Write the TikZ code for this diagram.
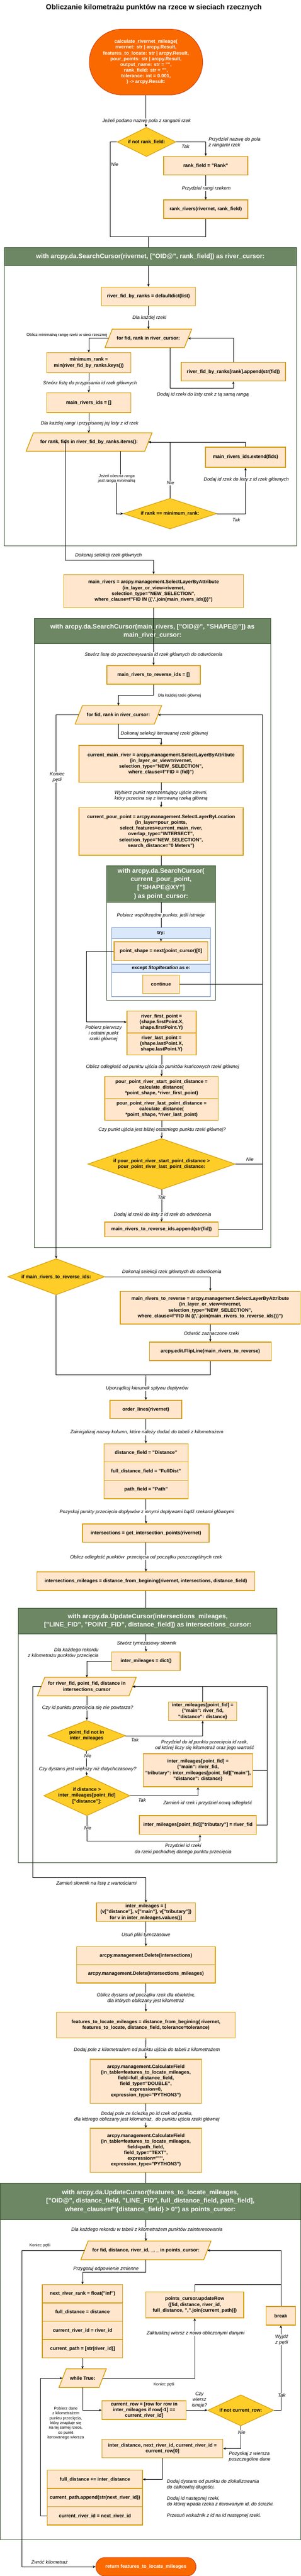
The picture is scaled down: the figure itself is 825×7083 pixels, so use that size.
\documentclass[tikz,border=0pt]{standalone}
\usepackage{fontspec}
\setmainfont{Liberation Sans}
\usetikzlibrary{shapes.geometric,arrows.meta,backgrounds}

\definecolor{boxfill}{HTML}{FFE6CC}
\definecolor{boxline}{HTML}{D79B00}
\definecolor{condfill}{HTML}{FFCD28}
\definecolor{condline}{HTML}{D79B00}
\definecolor{termfill}{HTML}{FA6800}
\definecolor{termline}{HTML}{C73500}
\definecolor{groupfill}{HTML}{6D8764}
\definecolor{groupline}{HTML}{3A5431}
\definecolor{tryfill}{HTML}{DAE8FC}
\definecolor{tryline}{HTML}{6C8EBF}

\begin{document}
\begin{tikzpicture}[x=1pt,y=-1pt]
\tikzset{
	code box/.style={draw=boxline, fill=boxfill, line width=2pt, inner sep=0pt, align=center,
		font=\fontsize{13.2}{15.8}\selectfont\bfseries},
	start stop/.style={draw=termline, fill=termfill, line width=1.2pt, text=white, inner sep=0pt,
		align=center, font=\fontsize{13.2}{15.8}\selectfont\bfseries},
	decision/.style={diamond, draw=condline, fill=condfill, line width=1.6pt, inner sep=0pt},
	decision text/.style={align=center, inner sep=0pt, font=\fontsize{13.2}{15.8}\selectfont\bfseries},
	loop head/.style={inner sep=0pt, align=center, font=\fontsize{13.2}{15.8}\selectfont\bfseries},
	loop shape/.style={draw=boxline, fill=boxfill, line width=2pt},
	group frame/.style={draw=groupline, line width=1.1pt, inner sep=0pt},
	group head/.style={draw=groupline, fill=groupfill, line width=1.1pt, text=white, inner sep=0pt,
		align=center, anchor=north, font=\fontsize{17.6}{22.9}\selectfont\bfseries},
	try frame/.style={draw=tryline, line width=1.1pt, inner sep=0pt},
	try head/.style={draw=tryline, fill=tryfill, line width=1.1pt, inner sep=0pt,
		font=\fontsize{13.2}{15.8}\selectfont\bfseries},
	flow/.style={line width=1.1pt, -{Stealth[length=7.5pt,width=6.5pt]}},
	joint/.style={line width=1.1pt},
	edge label/.style={fill=white, inner sep=1pt, align=center, font=\fontsize{13.2}{15.8}\selectfont\itshape},
	side note/.style={inner sep=0pt, align=center, font=\fontsize{13.2}{15.8}\selectfont\itshape},
	small note/.style={inner sep=0pt, align=center, font=\fontsize{11}{13.2}\selectfont}
}
\useasboundingbox (0,0) rectangle (825,7083);

\node[font=\fontsize{19.8}{24}\selectfont\bfseries] (title) at (422,21.5) {Obliczanie kilometrażu punktów na rzece w sieciach rzecznych};

% with-blocks
\node[group frame, minimum width=800.9pt, minimum height=819.3pt] (g1) at (412.6,1090.4) {};
\node[group head, minimum width=800.9pt, minimum height=49.7pt] (g1head) at (g1.north) {with arcpy.da.SearchCursor(rivernet, ["OID@", rank\_field]) as river\_cursor:};
\node[group frame, minimum width=649.2pt, minimum height=1729.9pt] (g2) at (418.3,2565.4) {};
\node[group head, minimum width=649.2pt, minimum height=70.1pt] (g2head) at (g2.north) {with arcpy.da.SearchCursor(main\_rivers, ["OID@", "SHAPE@"]) as\\main\_river\_cursor:};
\node[group frame, minimum width=299.9pt, minimum height=370pt] (g3) at (442,2565.3) {};
\node[group head, minimum width=299.9pt, minimum height=100.2pt] (g3head) at (g3.north) {with arcpy.da.SearchCursor(\\current\_pour\_point,\\{}["SHAPE@XY"]\\) as point\_cursor:};
\node[try frame, minimum width=270.5pt, minimum height=190.2pt] (tryblock) at (442,2645.3) {};
\node[try head, anchor=north, minimum width=270.5pt, minimum height=30.6pt] (tryhead) at (tryblock.north) {try:};
\node[try head, minimum width=270.5pt, minimum height=23.3pt] (excepthead) at (442,2662.2) {except \textit{StopIteration} as e:};
\node[group frame, minimum width=709.8pt, minimum height=699.8pt] (g4) at (405.4,4772.3) {};
\node[group head, minimum width=709.8pt, minimum height=69.6pt] (g4head) at (g4.north) {with arcpy.da.UpdateCursor(intersections\_mileages,\\{}["LINE\_FID", "POINT\_FID", distance\_field]) as intersections\_cursor:};
\node[group frame, minimum width=824pt, minimum height=979.8pt] (g5) at (412.5,6492.5) {};
\node[group head, minimum width=824pt, minimum height=100.2pt] (g5head) at (g5.north) {with arcpy.da.UpdateCursor(features\_to\_locate\_mileages,\\{}["OID@", distance\_field, "LINE\_FID", full\_distance\_field, path\_field],\\where\_clause=f"\{distance\_field\} > 0") as points\_cursor:};

% ranks
\node[start stop, minimum width=311pt, minimum height=181pt, rounded corners=90pt] (start) at (400.5,170.5) {calculate\_rivernet\_mileage(\\rivernet: str | arcpy.Result,\\features\_to\_locate: str | arcpy.Result,\\pour\_points: str | arcpy.Result,\\output\_name: str = "",\\rank\_field: str = "",\\tolerance: int = 0.001,\\) -> arcpy.Result:};
\node[decision, minimum width=161pt, minimum height=80.4pt, label={[decision text]center:{if not rank\_field:}}] (ifrank) at (402,390.3) {};
\node[code box, minimum width=231pt, minimum height=50.9pt] (rankset) at (564.5,455.2) {rank\_field = "Rank"};
\node[code box, minimum width=231pt, minimum height=50.9pt] (rankriv) at (564.5,575.3) {rank\_rivers(rivernet, rank\_field)};

\node[code box, minimum width=257.9pt, minimum height=51.6pt] (fiddict) at (407.3,815.2) {river\_fid\_by\_ranks = defaultdict(list)};
\node[loop head, minimum width=217.5pt, minimum height=50.2pt] (forriver) at (407,930.4) {for fid, rank in river\_cursor:};
\node[code box, minimum width=230.4pt, minimum height=54.7pt] (minrank) at (243.6,997.4) {minimum\_rank =\\min(river\_fid\_by\_ranks.keys())};
\node[code box, minimum width=286.2pt, minimum height=50.9pt] (fidappend) at (640.3,1022.3) {river\_fid\_by\_ranks[rank].append(str(fid))};
\node[code box, minimum width=230.4pt, minimum height=54.8pt] (mainids) at (243.6,1107.2) {main\_rivers\_ids = []};
\node[loop head, minimum width=325.1pt, minimum height=50.2pt] (forrank) at (244.4,1215.4) {for rank, fids in river\_fid\_by\_ranks.items():};
\node[decision, minimum width=256.3pt, minimum height=84.2pt, label={[decision text]center:{if rank == minimum\_rank:}}] (ifmin) at (466.5,1412.3) {};
\node[code box, minimum width=219.4pt, minimum height=55.2pt] (extend) at (673.7,1257.3) {main\_rivers\_ids.extend(fids)};
\node[code box, minimum width=493.5pt, minimum height=90.7pt] (selmain) at (421.5,1625.2) {main\_rivers = arcpy.management.SelectLayerByAttribute\\(in\_layer\_or\_view=rivernet,\\selection\_type="NEW\_SELECTION",\\where\_clause=f"FID IN (\{\textquotesingle,\textquotesingle.join(main\_rivers\_ids)\})")};

% main rivers
\node[code box, minimum width=256.8pt, minimum height=50.9pt] (revids) at (421.4,1855.5) {main\_rivers\_to\_reverse\_ids = []};
\node[loop head, minimum width=217pt, minimum height=50.5pt] (formain) at (324.8,1965.5) {for fid, rank in river\_cursor:};
\node[code box, minimum width=450.4pt, minimum height=100.7pt] (curmain) at (442,2100.4) {current\_main\_river = arcpy.management.SelectLayerByAttribute\\(in\_layer\_or\_view=rivernet,\\selection\_type="NEW\_SELECTION",\\where\_clause=f"FID = \{fid\}")};
\node[code box, minimum width=450.4pt, minimum height=130.9pt] (curpour) at (442,2286.3) {current\_pour\_point = arcpy.management.SelectLayerByLocation\\(in\_layer=pour\_points,\\select\_features=current\_main\_river,\\overlap\_type="INTERSECT",\\selection\_type="NEW\_SELECTION",\\search\_distance="0 Meters")};
\node[code box, minimum width=257.3pt, minimum height=51.3pt] (ptshape) at (441.7,2615.3) {point\_shape = next(point\_cursor)[0]};
\node[code box, minimum width=100.6pt, minimum height=51.3pt] (cont) at (441.7,2706.4) {continue};
\node[code box, minimum width=190pt, minimum height=60.1pt] (firstpt) at (443.3,2810.3) {river\_first\_point =\\(shape.firstPoint.X,\\shape.firstPoint.Y)};
\node[code box, minimum width=190pt, minimum height=60pt] (lastpt) at (443.3,2870.3) {river\_last\_point =\\(shape.lastPoint.X,\\shape.lastPoint.Y)};
\node[code box, minimum width=311pt, minimum height=60.1pt] (startdist) at (443.3,2990.4) {pour\_point\_river\_start\_point\_distance =\\calculate\_distance(\\{}*point\_shape, *river\_first\_point)};
\node[code box, minimum width=311pt, minimum height=60.1pt] (lastdist) at (443.3,3050.5) {pour\_point\_river\_last\_point\_distance =\\calculate\_distance(\\{}*point\_shape, *river\_last\_point)};
\node[decision, minimum width=404.6pt, minimum height=140.1pt, label={[decision text]center:{if pour\_point\_river\_start\_point\_distance >\\pour\_point\_river\_last\_point\_distance:}}] (ifcloser) at (443.3,3200.6) {};
\node[code box, minimum width=311pt, minimum height=40.6pt] (revappend) at (443.3,3380.5) {main\_rivers\_to\_reverse\_ids.append(str(fid))};
\node[decision, minimum width=266.3pt, minimum height=99.4pt, label={[decision text]center:{if main\_rivers\_to\_reverse\_ids:}}] (ifrev) at (154.2,3510.6) {};
\node[code box, minimum width=494pt, minimum height=90.3pt] (selrev) at (577,3595.5) {main\_rivers\_to\_reverse = arcpy.management.SelectLayerByAttribute\\(in\_layer\_or\_view=rivernet,\\selection\_type="NEW\_SELECTION",\\where\_clause=f"FID IN (\{\textquotesingle,\textquotesingle.join(main\_rivers\_to\_reverse\_ids)\})")};
\node[code box, minimum width=334.1pt, minimum height=50.9pt] (flip) at (577,3715.5) {arcpy.edit.FlipLine(main\_rivers\_to\_reverse)};

% intersections
\node[code box, minimum width=197.3pt, minimum height=50.5pt] (order) at (400.2,3875.3) {order\_lines(rivernet)};
\node[code box, minimum width=231pt, minimum height=50.2pt] (distfield) at (400.7,3994.8) {distance\_field = "Distance"};
\node[code box, minimum width=231pt, minimum height=50.5pt] (fullfield) at (400.7,4045.2) {full\_distance\_field = "FullDist"};
\node[code box, minimum width=231pt, minimum height=50.1pt] (pathfield) at (400.7,4095.5) {path\_field = "Path"};
\node[code box, minimum width=347.2pt, minimum height=50.9pt] (inters) at (400.4,4215.5) {intersections = get\_intersection\_points(rivernet)};
\node[code box, minimum width=597.2pt, minimum height=50.9pt] (intermil) at (400.1,4347.5) {intersections\_mileages = distance\_from\_begining(rivernet, intersections, distance\_field)};
\node[code box, minimum width=187.9pt, minimum height=50.9pt] (interdict) at (400.7,4567.5) {inter\_mileages = dict()};
\node[loop head, minimum width=250.7pt, minimum height=50.5pt] (forinter) at (238.2,4637.5) {for river\_fid, point\_fid, distance in\\intersections\_cursor};
\node[code box, minimum width=187.3pt, minimum height=50.3pt] (newmain) at (556.1,4705.2) {inter\_mileages[point\_fid] =\\\{"main": river\_fid,\\"distance": distance\}};
\node[decision, minimum width=212.6pt, minimum height=84.2pt, label={[decision text]center:{point\_fid not in\\inter\_mileages}}] (ifnotin) at (237.8,4772.4) {};
\node[code box, minimum width=300.5pt, minimum height=90.7pt] (swap) at (543.2,4867.5) {inter\_mileages[point\_fid] =\\\{"main": river\_fid,\\"tributary": inter\_mileages[point\_fid]["main"],\\"distance": distance\}};
\node[decision, minimum width=236.7pt, minimum height=109.9pt, label={[decision text]center:{if distance >\\inter\_mileages[point\_fid]\\{}["distance"]:}}] (ifdist) at (238.4,4937.5) {};
\node[code box, minimum width=321pt, minimum height=51.4pt] (settrib) at (543,5017.7) {inter\_mileages[point\_fid]["tributary"] = river\_fid};
\node[code box, minimum width=271.5pt, minimum height=51.3pt] (tolist) at (400.4,5257.6) {inter\_mileages = [\\(v["distance"], v["main"], v["tributary"])\\for v in inter\_mileages.values()]};
\node[code box, minimum width=380.9pt, minimum height=50.1pt] (del1) at (400.4,5377.2) {arcpy.management.Delete(intersections)};
\node[code box, minimum width=380.9pt, minimum height=50.5pt] (del2) at (400.4,5427.4) {arcpy.management.Delete(intersections\_mileages)};
\node[code box, minimum width=490.4pt, minimum height=71.1pt] (ftlmil) at (400.4,5567.6) {features\_to\_locate\_mileages = distance\_from\_begining( rivernet,\\features\_to\_locate, distance\_field, tolerance=tolerance)};
\node[code box, minimum width=305.7pt, minimum height=121pt] (calcfull) at (400.2,5722.5) {arcpy.management.CalculateField\\(in\_table=features\_to\_locate\_mileages,\\field=full\_distance\_field,\\field\_type="DOUBLE",\\expression=0,\\expression\_type="PYTHON3")};
\node[code box, minimum width=305.7pt, minimum height=120.8pt] (calcpath) at (400.2,5912.3) {arcpy.management.CalculateField\\(in\_table=features\_to\_locate\_mileages,\\field=path\_field,\\field\_type="TEXT",\\expression=\textquotesingle""\textquotesingle,\\expression\_type="PYTHON3")};

% points
\node[loop head, minimum width=336.8pt, minimum height=51pt] (forpoints) at (400.4,6187.5) {for fid, distance, river\_id, \_, \_ in points\_cursor:};
\node[code box, minimum width=220.4pt, minimum height=50.4pt] (nextrank) at (226.5,6307.2) {next\_river\_rank = float("inf")};
\node[code box, minimum width=220.4pt, minimum height=50.1pt] (fulldist) at (226.5,6357.5) {full\_distance = distance};
\node[code box, minimum width=220.4pt, minimum height=50.2pt] (curriver) at (226.5,6407.6) {current\_river\_id = river\_id};
\node[code box, minimum width=220.4pt, minimum height=50.1pt] (curpath) at (226.5,6457.8) {current\_path = [str(river\_id)]};
\node[code box, minimum width=268.8pt, minimum height=71.2pt] (update) at (534.3,6337.4) {points\_cursor.updateRow\\([fid, distance, river\_id,\\full\_distance, ",".join(current\_path)])};
\node[code box, minimum width=80.5pt, minimum height=50.9pt] (brk) at (770.5,6367.5) {break};
\node[loop head, minimum width=109.5pt, minimum height=50.9pt] (whiletrue) at (226.7,6539) {while True:};
\node[code box, minimum width=230.9pt, minimum height=50.9pt] (currow) at (395.4,6627) {current\_row = [row for row in\\inter\_mileages if row[-1] ==\\current\_river\_id]};
\node[decision, minimum width=181.6pt, minimum height=85.3pt, label={[decision text]center:{if not current\_row:}}] (ifnotrow) at (660.6,6627.4) {};
\node[code box, minimum width=331.4pt, minimum height=50.6pt] (unpack) at (445.7,6732.5) {inter\_distance, next\_river\_id, current\_river\_id =\\current\_row[0]};
\node[code box, minimum width=261pt, minimum height=50.1pt] (adddist) at (260.5,6817.2) {full\_distance += inter\_distance};
\node[code box, minimum width=261pt, minimum height=50.2pt] (apppath) at (260.5,6867.4) {current\_path.append(str(next\_river\_id))};
\node[code box, minimum width=261pt, minimum height=50.1pt] (nextid) at (260.5,6917.5) {current\_river\_id = next\_river\_id};
\node[side note, anchor=west, align=left] (notedist) at (457.8,6831.2) {Dodaj dystans od punktu do zlokalizowania\\do całkowitej długości.};
\node[side note, anchor=west, align=left] (notepath) at (457.8,6878.1) {Dodaj id następnej rzeki,\\do której wpada rzeka z iterowanym id, do ścieżki.};
\node[side note, anchor=west, align=left] (noteid) at (457.8,6916.6) {Przesuń wskaźnik z id na id następnej rzeki.};
\node[start stop, minimum width=274.7pt, minimum height=51pt, rounded corners=25pt] (stop) at (400.4,7057.5) {return features\_to\_locate\_mileages};

\begin{pgfonlayer}{background}
\foreach \n in {forriver,forrank,formain,forinter,forpoints,whiletrue}
	\filldraw[loop shape] ([xshift=-10pt]\n.south west) -- ([xshift=10pt]\n.north west)
		-- ([xshift=10pt]\n.north east) -- ([xshift=-10pt]\n.south east) -- cycle;
\end{pgfonlayer}

\coordinate (nie1) at (302.6,650.5);
\coordinate (merge1) at (407.8,650.5);
\coordinate (loop1) at (466.7,1067.2);
\coordinate (rankq) at (330,1316);
\coordinate (minq) at (319,1316);
\coordinate (exit1) at (179.4,1540.5);
\coordinate (loop3) at (719.8,3380.5);
\coordinate (q26) at (236.8,2810.3);
\coordinate (merge2) at (400.4,3780.3);
\coordinate (loop4) at (732.4,5017.7);
\coordinate (q45) at (548.8,5062.5);
\coordinate (q46) at (90.5,5162.8);
\coordinate (q55) at (60.5,7057.5);
\coordinate (q56) at (770.5,6282.3);
\coordinate (q63) at (110.5,6917.5);

\draw[flow] (start.south) -- (start.south |- ifrank.north) node[edge label] at (402,333) {Jeżeli podano nazwę pola z rangami rzek};
\draw[flow] (ifrank.east) -| (rankset.north) node[side note] at (509,402) {Tak}
	node[side note, anchor=west, align=left] at (572,392) {Przydziel nazwę do pola\\z rangami rzek};
\draw[flow] (rankset.south) -- (rankriv.north) node[edge label] at (566,518.5) {Przydziel rangi rzekom};
\draw[joint] (ifrank.west) -| (nie1) -- (merge1) node[side note] at (314.6,452.7) {Nie};
\draw[joint] (rankriv.south) |- (merge1);
\draw[joint] (merge1) -- (merge1 |- g1head.north);

\draw[flow] (fiddict.north |- g1head.south) -- (fiddict.north);
\draw[flow] (fiddict.south) -- (fiddict.south |- forriver.north) node[edge label] at (410,874) {Dla każdej rzeki};
\draw[flow] (forriver.west) -| (minrank.north) node[small note, anchor=east] at (294.7,922) {Oblicz minimalną rangę rzeki w sieci rzecznej};
\draw[flow] (forriver.south -| loop1) -- (loop1) -| (fidappend.south) node[side note] at (556.7,1084.8) {Dodaj id rzeki do listy rzek z tą samą rangą};
\draw[flow] (fidappend.north) |- (forriver.east);
\draw[flow] (minrank.south) -- (mainids.north) node[edge label] at (246.8,1054.2) {Stwórz listę do przypisania id rzek głównych};
\draw[flow] (mainids.south) -- (mainids.south |- forrank.north) node[edge label] at (246,1164) {Dla każdej rangi i przypisanej jej listy z id rzek};
\draw[flow] (forrank.south -| rankq) -- (rankq) -- (minq) |- (ifmin.west)
	node[small note, fill=white, font=\fontsize{11}{13.8}\selectfont\itshape] at (320.5,1316) {Jeżeli obecna ranga\\jest rangą minimalną};
\draw[flow] (ifmin.north) |- (forrank.east) node[edge label] at (467.8,1328) {Nie};
\draw[flow] (ifmin.east) -| (extend.south) node[side note] at (648.2,1429.5) {Tak}
	node[edge label] at (675.6,1318.5) {Dodaj id rzek do listy z id rzek głównych};
\draw[flow] (extend.north) |- (forrank.east);
\draw[flow] (forrank.center -| exit1) -- (exit1) -| (selmain.north) node[side note] at (297.8,1527.5) {Dokonaj selekcji rzek głównych};

\draw[flow] (selmain.south) -- (revids.north) node[edge label] at (421.5,1800.6) {Stwórz listę do przechowywania id rzek głównych do odwrócenia};
\draw[flow] (revids.south) -- ++(0,29.8) -| (formain.north) node[small note, anchor=west] at (433,1912.4) {Dla każdej rzeki głównej};
\draw[flow] (formain.south) -- ++(0,39.4) -| (curmain.north) node[side note] at (451,2016.8) {Dokonaj selekcji iterowanej rzeki głównej};
\draw[flow] (curmain.south) -- (curpour.north) node[edge label] at (442,2188.5) {Wybierz punkt reprezentujący ujście zlewni,\\który przecina się z iterowaną rzeką główną};
\draw[joint] (curpour.south) -- (curpour.south |- g3head.north);
\draw[joint] (g3head.south) -- (tryhead.north) node[edge label] at (441,2517.3) {Pobierz współrzędne punktu, jeśli istnieje};
\draw[flow] (ptshape.north |- tryhead.south) -- (ptshape.north);
\draw[flow] (ptshape.west) -| (q26) -- (firstpt.west) node[side note] at (284,2842.2) {Pobierz pierwszy\\i ostatni punkt\\rzeki głównej};
\draw[joint] (cont.east) -- (cont.east -| loop3);
\draw[flow] (lastpt.south) -- (startdist.north) node[edge label] at (446,2934) {Oblicz odległość od punktu ujścia do punktów krańcowych rzeki głównej};
\draw[flow] (lastdist.south) -- (ifcloser.north) node[edge label] at (445,3106.5) {Czy punkt ujścia jest bliżej ostatniego punktu rzeki głównej?};
\draw[flow] (ifcloser.south) -- (revappend.north) node[edge label] at (443.3,3291.7) {Tak}
	node[edge label] at (446,3340.3) {Dodaj id rzeki do listy z id rzek do odwrócenia};
\draw[joint] (ifcloser.east) -- (ifcloser.east -| loop3) node[side note] at (685.6,3187.3) {Nie};
\draw[flow] (revappend.east) -- (loop3) |- (formain.east);
\draw[flow] (formain.west) -| (ifrev.north) node[edge label] at (156.8,2136.5) {Koniec\\pętli};

\draw[flow] (ifrev.east) -| (selrev.north) node[side note] at (471.4,3497.6) {Dokonaj selekcji rzek głównych do odwrócenia};
\draw[flow] (selrev.south) -- (flip.north) node[edge label] at (580,3666.3) {Odwróć zaznaczone rzeki};
\draw[joint] (ifrev.south) |- (merge2);
\draw[joint] (flip.south) |- (merge2);
\draw[flow] (merge2) -- (order.north) node[edge label] at (403.6,3818.2) {Uporządkuj kierunek spływu dopływów};
\draw[flow] (order.south) -- (order.south |- distfield.north) node[edge label] at (403,3938.7) {Zainicjalizuj nazwy kolumn, które należy dodać do tabeli z kilometrażem};
\draw[flow] (pathfield.south) -- (pathfield.south |- inters.north) node[edge label] at (403,4158.3) {Pozyskaj punkty przecięcia dopływów z innymi dopływami bądź rzekami głównymi};
\draw[flow] (inters.south) -- (inters.south |- intermil.north) node[edge label] at (401,4282.3) {Oblicz odległość punktów~ przecięcia od początku poszczególnych rzek};
\draw[joint] (intermil.south) -- (intermil.south |- g4head.north);

\draw[flow] (interdict.north |- g4head.south) -- (interdict.north) node[edge label] at (402.5,4518.4) {Stwórz tymczasowy słownik};
\draw[flow] (interdict.west) -| (forinter.north) node[side note, anchor=east, align=right] at (271,4545.8) {Dla każdego rekordu\\z kilometrażu punktów przecięcia};
\draw[flow] (forinter.south) -- (forinter.south |- ifnotin.north) node[edge label] at (240.5,4696.4) {Czy id punktu przecięcia się nie powtarza?};
\draw[flow] (ifnotin.east) -| (newmain.south) node[side note] at (369.9,4783.9) {Tak}
	node[side note] at (561.4,4798.5) {Przydziel do id punktu przecięcia id rzek,\\od której liczy się kilometraż oraz jego wartość};
\draw[flow] (newmain.north) |- (forinter.east);
\draw[flow] (ifnotin.south) -- (ifnotin.south |- ifdist.north) node[edge label] at (240.5,4828.3) {Nie}
	node[edge label] at (240.5,4864.6) {Czy dystans jest większy niż dotychczasowy?};
\draw[flow] (ifdist.east) -| (swap.south) node[side note] at (389.9,4949.6) {Tak}
	node[side note] at (569.8,4958.4) {Zamień id rzek i przydziel nową odległość};
\draw[joint] (swap.east) -- (swap.east -| loop4);
\draw[flow] (ifdist.south) |- (q45) -- (q45 |- settrib.south) node[edge label] at (240.5,5026.1) {Nie}
	node[side note] at (502.5,5084.3) {Przydziel id rzeki\\do rzeki pochodnej danego punktu przecięcia};
\draw[flow] (settrib.east) -- (loop4) |- (forinter.east);
\draw[flow] (forinter.west) -| (q46) -| (tolist.north) node[side note] at (264.7,5179.2) {Zamień słownik na listę z wartościami};

\draw[flow] (tolist.south) -- (del1.north) node[edge label] at (400.4,5320.7) {Usuń pliki tymczasowe};
\draw[flow] (del2.south) -- (ftlmil.north) node[edge label] at (400,5494.5) {Oblicz dystans od początku rzek dla obiektów,\\dla których obliczany jest kilometraż};
\draw[flow] (ftlmil.south) -- (calcfull.north) node[edge label] at (403,5636.4) {Dodaj pole z kilometrażem od punktu ujścia do tabeli z kilometrażem};
\draw[flow] (calcfull.south) -- (calcpath.north) node[edge label] at (403,5820.5) {Dodaj pole ze ścieżką po id rzek od punku,\\dla którego obliczany jest kilometraż,~ do punktu ujścia rzeki głównej};
\draw[joint] (calcpath.south) -- (calcpath.south |- g5head.north);

\draw[flow] (forpoints.north |- g5head.south) -- (forpoints.north) node[edge label] at (403,6130.7) {Dla każdego rekordu w tabeli z kilometrażem punktów zainteresowania};
\draw[flow] (forpoints.south) -- ++(0,34) -| (nextrank.north) node[side note] at (291,6239.4) {Przygotuj odpowienie zmienne};
\draw[flow] (curpath.south) -- (curpath.south |- whiletrue.north);
\draw[flow] (forpoints.west) -| (q55) -- (stop.west) node[small note] at (109.4,6174.4) {Koniec pętli}
	node[side note] at (135.7,7044.4) {Zwróć kilometraż};
\draw[flow] (brk.north) |- (forpoints.east);
\draw[joint] (update.north) |- (q56);
\draw[flow] (whiletrue.east) -| (update.south) node[small note] at (449.9,6556.1) {Koniec pętli}
	node[edge label] at (536.7,6415.4) {Zaktualizuj wiersz z nowo obliczonymi danymi};
\draw[flow] (whiletrue.south) |- (currow.west) node[small note] at (180.5,6662.7) {Pobierz dane\\z kilometrażem\\punktu przecięcia,\\który znajduje się\\na tej samej rzece,\\co punkt\\iterowanego wiersza};
\draw[flow] (currow.east) -- (currow.east -| ifnotrow.west) node[side note] at (547.2,6599) {Czy\\wiersz\\isneje?};
\draw[flow] (ifnotrow.east) -| (brk.south) node[edge label] at (772.9,6585.6) {Tak}
	node[edge label] at (772.9,6433.6) {Wyjdź\\z pętli};
\draw[flow] (ifnotrow.south) |- (unpack.east) node[edge label] at (662.9,6687.7) {Nie}
	node[side note, anchor=west, align=left] at (627.7,6754.7) {Pozyskaj z wiersza\\poszczególne dane};
\draw[flow] (unpack.south) |- (adddist.east);
\draw[flow] (nextid.west) -- (q63) |- (whiletrue.west);

\end{tikzpicture}
\end{document}
